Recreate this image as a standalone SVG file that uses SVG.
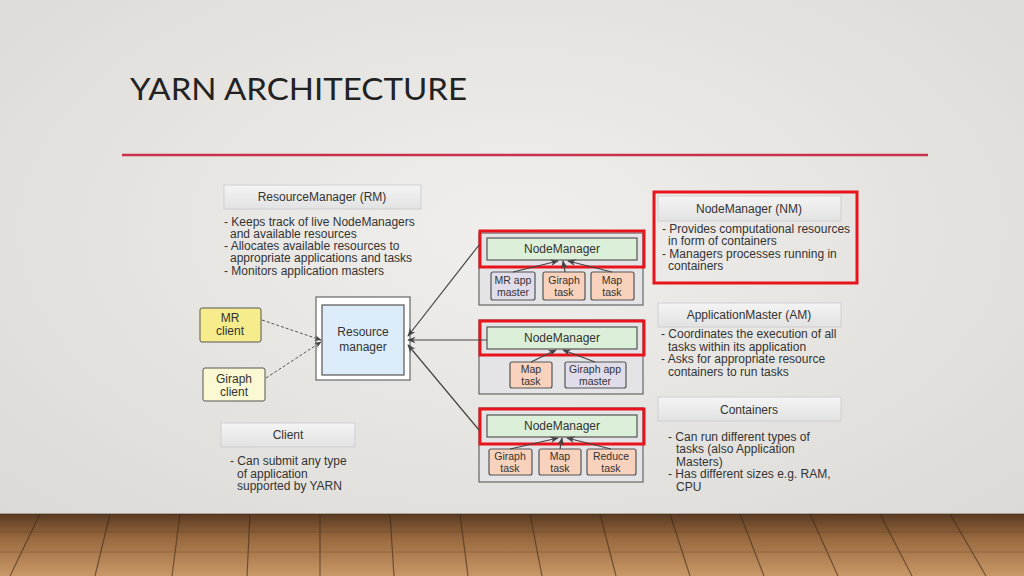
<svg xmlns="http://www.w3.org/2000/svg" width="1024" height="576" viewBox="0 0 1024 576">
<defs>
<radialGradient id="bg" cx="0.5" cy="0.4" r="0.7"><stop offset="0" stop-color="#f0efed"/><stop offset="1" stop-color="#dcdad6"/></radialGradient>
<linearGradient id="wood" x1="0" y1="0" x2="0" y2="1"><stop offset="0" stop-color="#5a3a22"/><stop offset="0.4" stop-color="#9a6a40"/><stop offset="1" stop-color="#c89868"/></linearGradient>
<linearGradient id="hdr" x1="0" y1="0" x2="0" y2="1"><stop offset="0" stop-color="#f4f4f4"/><stop offset="1" stop-color="#e2e2e2"/></linearGradient>
<marker id="ah" viewBox="0 0 10 10" refX="9" refY="5" markerWidth="7" markerHeight="7" orient="auto-start-reverse"><path d="M0,1 L10,5 L0,9 L3,5 z" fill="#444"/></marker>
</defs>
<style>
text{font-family:"Liberation Sans",Arial,sans-serif;font-size:12px;fill:#333}
.c{text-anchor:middle}
.s{font-size:10.5px}
.hdr{fill:url(#hdr);stroke:#cfcfcf;stroke-width:1}
.red{fill:none;stroke:#e8141c;stroke-width:3}
.outer{fill:#e4e3e6;stroke:#666;stroke-width:1.2}
.nm{fill:#dcefd8;stroke:#555;stroke-width:1.2}
.task{fill:#f8d2bc;stroke:#555;stroke-width:1.2}
.am{fill:#e0dcea;stroke:#555;stroke-width:1.2}
.ln{stroke:#444;stroke-width:1.2;fill:none;marker-end:url(#ah)}
.dl{stroke:#555;stroke-width:1;fill:none;stroke-dasharray:3,2;marker-end:url(#ah)}
</style>
<rect width="1024" height="576" fill="url(#bg)"/>
<g id="floor">
<rect y="514" width="1024" height="62" fill="url(#wood)"/>
<g stroke="#3e2716" stroke-width="1.2" opacity="0.6">
<line x1="0" y1="514" x2="1024" y2="514"/>
<line x1="40" y1="514" x2="10" y2="576"/><line x1="110" y1="514" x2="95" y2="576"/><line x1="180" y1="514" x2="172" y2="576"/><line x1="250" y1="514" x2="247" y2="576"/><line x1="320" y1="514" x2="320" y2="576"/><line x1="390" y1="514" x2="394" y2="576"/><line x1="460" y1="514" x2="468" y2="576"/><line x1="530" y1="514" x2="542" y2="576"/><line x1="600" y1="514" x2="616" y2="576"/><line x1="670" y1="514" x2="690" y2="576"/><line x1="740" y1="514" x2="764" y2="576"/><line x1="810" y1="514" x2="838" y2="576"/><line x1="880" y1="514" x2="912" y2="576"/><line x1="950" y1="514" x2="986" y2="576"/>
<line x1="0" y1="532" x2="1024" y2="532" opacity="0.4"/><line x1="0" y1="552" x2="1024" y2="552" opacity="0.4"/>
</g>
</g>
<text x="130" y="100" textLength="337" lengthAdjust="spacingAndGlyphs" style="font-family:Lato,'Liberation Sans',sans-serif;font-size:31px;fill:#222">YARN ARCHITECTURE</text>
<line x1="122" y1="155" x2="928" y2="155" stroke="#c8324c" stroke-width="2.5"/>

<g id="rm-desc">
<rect class="hdr" x="224" y="185" width="197" height="24"/>
<text class="c" x="322" y="201">ResourceManager (RM)</text>
<text x="224" y="226">- Keeps track of live NodeManagers</text>
<text x="230" y="238">and available resources</text>
<text x="224" y="250">- Allocates available resources to</text>
<text x="230" y="262">appropriate applications and tasks</text>
<text x="224" y="275">- Monitors application masters</text>
</g>
<g id="client-desc">
<rect class="hdr" x="221" y="423" width="134" height="24"/>
<text class="c" x="288" y="439">Client</text>
<text x="230" y="465">- Can submit any type</text>
<text x="237" y="478">of application</text>
<text x="237" y="490">supported by YARN</text>
</g>
<g id="mr-client"><rect x="200" y="308" width="61" height="34" rx="2" fill="#f6ec8c" stroke="#555"/><text class="c" x="230" y="322">MR</text><text class="c" x="230" y="335">client</text></g>
<g id="giraph-client"><rect x="203" y="368" width="62" height="33" rx="2" fill="#fbf8d4" stroke="#555"/><text class="c" x="234" y="383">Giraph</text><text class="c" x="234" y="396">client</text></g>
<g id="resource-manager"><rect x="316" y="297" width="94" height="83" fill="#fff" stroke="#666" stroke-width="1.2"/><rect x="322" y="305" width="82" height="70" fill="#dcecf8" stroke="#555" stroke-width="1.2"/><text class="c" x="363" y="336">Resource</text><text class="c" x="363" y="351">manager</text></g>

<g id="nm1">
<rect class="outer" x="479" y="233" width="164" height="72"/>
<rect class="nm" x="487" y="238" width="150" height="22"/><text class="c" x="562" y="253">NodeManager</text>
<rect class="am" x="491" y="272" width="44" height="28" rx="2"/><text class="c s" x="513" y="284">MR app</text><text class="c s" x="513" y="296">master</text>
<rect class="task" x="543" y="272" width="42" height="28" rx="2"/><text class="c s" x="564" y="284">Giraph</text><text class="c s" x="564" y="296">task</text>
<rect class="task" x="591" y="272" width="43" height="28" rx="2"/><text class="c s" x="612" y="284">Map</text><text class="c s" x="612" y="296">task</text>
<rect class="red" x="480" y="231" width="164" height="36"/>
</g>
<g id="nm2">
<rect class="outer" x="479" y="320" width="164" height="74"/>
<rect class="nm" x="487" y="327" width="150" height="22"/><text class="c" x="562" y="342">NodeManager</text>
<rect class="task" x="510" y="362" width="42" height="26" rx="2"/><text class="c s" x="531" y="373">Map</text><text class="c s" x="531" y="385">task</text>
<rect class="am" x="565" y="362" width="61" height="26" rx="2"/><text class="c s" x="595" y="373">Giraph app</text><text class="c s" x="595" y="385">master</text>
<rect class="red" x="480" y="321" width="164" height="34"/>
</g>
<g id="nm3">
<rect class="outer" x="479" y="408" width="164" height="74"/>
<rect class="nm" x="487" y="415" width="150" height="22"/><text class="c" x="562" y="430">NodeManager</text>
<rect class="task" x="489" y="449" width="43" height="26" rx="2"/><text class="c s" x="510" y="460">Giraph</text><text class="c s" x="510" y="472">task</text>
<rect class="task" x="539" y="449" width="42" height="26" rx="2"/><text class="c s" x="560" y="460">Map</text><text class="c s" x="560" y="472">task</text>
<rect class="task" x="587" y="449" width="49" height="26" rx="2"/><text class="c s" x="611" y="460">Reduce</text><text class="c s" x="611" y="472">task</text>
<rect class="red" x="480" y="409" width="164" height="35"/>
</g>

<g id="nm-desc">
<rect class="hdr" x="658" y="196" width="183" height="25"/><text class="c" x="749" y="213">NodeManager (NM)</text>
<text x="662" y="233">- Provides computational resources</text>
<text x="668" y="245">in form of containers</text>
<text x="662" y="258">- Managers processes running in</text>
<text x="668" y="270">containers</text>
<rect class="red" x="654" y="192" width="203" height="91"/>
</g>
<g id="am-desc">
<rect class="hdr" x="658" y="303" width="183" height="24"/><text class="c" x="749" y="319">ApplicationMaster (AM)</text>
<text x="661" y="338">- Coordinates the execution of all</text>
<text x="668" y="351">tasks within its application</text>
<text x="661" y="363">- Asks for appropriate resource</text>
<text x="668" y="376">containers to run tasks</text>
</g>
<g id="containers-desc">
<rect class="hdr" x="658" y="397" width="183" height="24"/><text class="c" x="749" y="414">Containers</text>
<text x="668" y="441">- Can run different types of</text>
<text x="676" y="453">tasks (also Application</text>
<text x="676" y="466">Masters)</text>
<text x="668" y="478">- Has different sizes e.g. RAM,</text>
<text x="676" y="491">CPU</text>
</g>

<g id="connectors">
<path class="ln" d="M479,245 L408,336"/>
<path class="ln" d="M487,340 L408,340"/>
<path class="ln" d="M479,430 L408,345"/>
<path class="dl" d="M262,320 L321,340"/>
<path class="dl" d="M266,378 L321,342"/>
<path class="ln" d="M513,272 L558,261"/>
<path class="ln" d="M565,272 L563,261"/>
<path class="ln" d="M612,272 L568,261"/>
<path class="ln" d="M531,362 L556,350"/>
<path class="ln" d="M595,362 L563,350"/>
<path class="ln" d="M510,449 L558,438"/>
<path class="ln" d="M560,449 L562,438"/>
<path class="ln" d="M611,449 L567,438"/>
</g>
</svg>
